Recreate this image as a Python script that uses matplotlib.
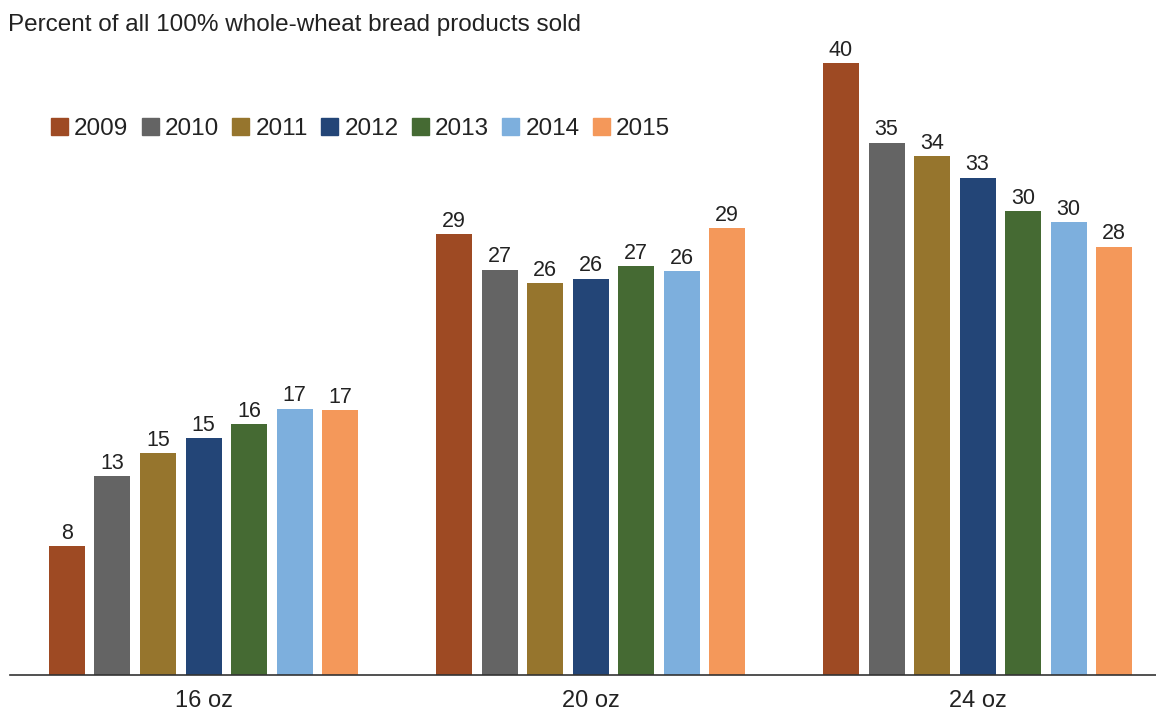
import numpy as np
import matplotlib.pyplot as plt
from matplotlib.patches import Patch

plt.rcParams['font.family'] = ['Liberation Sans', 'DejaVu Sans']

# data
categories = ['16 oz', '20 oz', '24 oz']
years = ['2009', '2010', '2011', '2012', '2013', '2014', '2015']
values = {
    '2009': [8.4, 28.8, 40.0],
    '2010': [13.0, 26.5, 34.8],
    '2011': [14.5, 25.6, 33.9],
    '2012': [15.5, 25.9, 32.5],
    '2013': [16.4, 26.7, 30.3],
    '2014': [17.4, 26.4, 29.6],
    '2015': [17.3, 29.2, 28.0],
}
labels = {
    '2009': [8, 29, 40],
    '2010': [13, 27, 35],
    '2011': [15, 26, 34],
    '2012': [15, 26, 33],
    '2013': [16, 27, 30],
    '2014': [17, 26, 30],
    '2015': [17, 29, 28],
}
colors = ['#9E4A23', '#646464', '#96752D', '#234577', '#456A33', '#7DAFDD', '#F4985A']

txt = '#222222'
fig = plt.figure(figsize=(11.56, 7.13), dpi=100)
ax = fig.add_axes([10 / 1156, 1 - 675 / 713, 1 - 10 / 1156, 612 / 713])

x = np.arange(len(categories))
step = 0.1176
width = 0.093
for i, yr in enumerate(years):
    pos = x + (i - 3) * step
    bars = ax.bar(pos, values[yr], width=width, color=colors[i], label=yr)
    for b, lab in zip(bars, labels[yr]):
        ax.text(b.get_x() + b.get_width() / 2, b.get_height() + 0.15, str(lab),
                ha='center', va='bottom', fontsize=15.5, color=txt, clip_on=False)

ax.set_xlim(-0.5, 2.461)
ax.set_ylim(0, 40)
for s in ['top', 'right', 'left']:
    ax.spines[s].set_visible(False)
ax.spines['bottom'].set_color('#333333')
ax.spines['bottom'].set_linewidth(1.2)
ax.set_yticks([])
ax.set_xticks(x)
ax.set_xticklabels(categories, fontsize=17, color=txt)
ax.tick_params(axis='x', length=0, pad=11)

fig.text(8 / 1156, 1 - 25 / 713, 'Percent of all 100% whole-wheat bread products sold',
         ha='left', va='center', fontsize=17.5, color=txt)

handles = [Patch(color=c) for c in colors]
leg = fig.legend(handles, years, loc='center left', bbox_to_anchor=(51 / 1156, 1 - 129 / 713),
                 ncol=7, frameon=False, fontsize=17.5, handlelength=0.7, handleheight=0.7,
                 handletextpad=0.25, columnspacing=0.55, borderaxespad=0, borderpad=0)
for t in leg.get_texts():
    t.set_color(txt)

fig.savefig('out.png', dpi=100)
